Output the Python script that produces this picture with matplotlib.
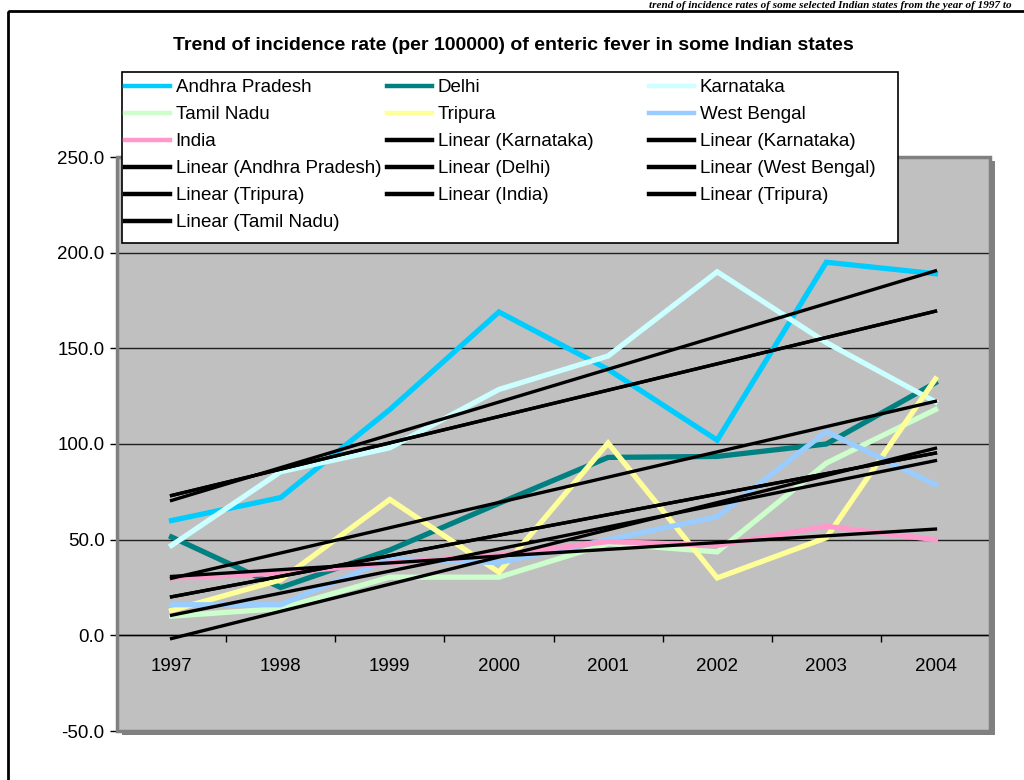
import matplotlib
matplotlib.use("Agg")
import matplotlib.pyplot as plt
from matplotlib.lines import Line2D
from matplotlib.patches import Rectangle
import numpy as np

plt.rcParams["font.family"] = ["Liberation Sans", "DejaVu Sans"]

W, H = 1024, 780

years = ["1997", "1998", "1999", "2000", "2001", "2002", "2003", "2004"]

andhra_pradesh = [60, 72, 118, 169, 139, 102, 195, 189]
delhi = [51.4, 25, 44.6, 69, 93, 93.5, 100, 132]
karnataka = [47, 85.5, 98, 128.5, 146, 190, 153, 122]
tamil_nadu = [10, 14, 30.4, 30.4, 48, 43.6, 90, 118]
tripura = [13, 29, 71, 33, 100.5, 30, 51, 134]
west_bengal = [16, 16, 40, 38, 50, 62, 106.5, 78.7]
india = [30, 32.5, 37.8, 42, 49, 47, 57, 50]

series_names = ["Andhra Pradesh", "Delhi", "Karnataka", "Tamil Nadu",
                "Tripura", "West Bengal", "India"]
series_values = [andhra_pradesh, delhi, karnataka, tamil_nadu,
                 tripura, west_bengal, india]
series_colors = ["#00CCFF", "#008080", "#CCFFFF", "#CCFFCC",
                 "#FFFF99", "#99CCFF", "#FF99CC"]

# trendlines in the order the workbook lists them (two are duplicated)
trend_names = ["Karnataka", "Karnataka", "Andhra Pradesh", "Delhi",
               "West Bengal", "Tripura", "India", "Tripura", "Tamil Nadu"]

y_ticks = [-50, 0, 50, 100, 150, 200, 250]


def fx(px):
    return px / W


def fy(py):
    return 1 - py / H


fig = plt.figure(figsize=(W / 100, H / 100), dpi=100)
fig.patch.set_facecolor("white")

# line of the surrounding document above the chart
fig.text(fx(1012), fy(0.5), "trend of incidence rates of some selected Indian states "
         "from the year of 1997 to", ha="right", va="top",
         family=["Liberation Serif", "DejaVu Serif"], style="italic",
         fontweight="bold", fontsize=8)

# chart area border
fig.add_artist(Rectangle((fx(8), fy(11)), 1.2, -1.2, transform=fig.transFigure,
                         fill=False, edgecolor="black", lw=2.0, zorder=1))

ax_l, ax_r, ax_t, ax_b = 117, 990, 157, 731
ax = fig.add_axes([fx(ax_l), fy(ax_b), fx(ax_r - ax_l), (ax_b - ax_t) / H])
ax.set_facecolor("#C0C0C0")

# plot-area drop shadow
fig.add_artist(Rectangle((fx(ax_l + 5), fy(ax_b + 4)), fx(ax_r - ax_l),
                         (ax_b - ax_t) / H, transform=fig.transFigure,
                         facecolor="#808080", edgecolor="none", zorder=-1))

x = np.arange(len(years))
series_handles = {}
for name, vals, col in zip(series_names, series_values, series_colors):
    (ln,) = ax.plot(x, vals, color=col, lw=3.8, solid_joinstyle="miter", zorder=3)
    series_handles[name] = ln

trend_handles = []
for name in trend_names:
    vals = series_values[series_names.index(name)]
    slope, icpt = np.polyfit(x, vals, 1)
    (ln,) = ax.plot(x, slope * x + icpt, color="black", lw=2.4, zorder=4)
    trend_handles.append(ln)

ax.set_xlim(-0.5, len(years) - 0.5)
ax.set_ylim(-50, 250)
ax.set_yticks(y_ticks)
ax.set_yticklabels([f"{v:.1f}" for v in y_ticks])
ax.yaxis.grid(True, color="#202020", lw=1.0)
ax.set_axisbelow(True)
ax.tick_params(axis="y", direction="out", length=5, width=1, color="black",
               labelsize=13.5, pad=4)

for side in ["top", "right", "left"]:
    ax.spines[side].set_visible(False)
ax.spines["bottom"].set_position(("data", 0))
ax.spines["bottom"].set_color("black")
ax.spines["bottom"].set_linewidth(1.0)

# category axis: tick marks between categories, labels centred
ax.set_xticks(np.arange(len(years) + 1) - 0.5)
ax.set_xticklabels([])
ax.set_xticks(x, minor=True)
ax.set_xticklabels(years, minor=True)
ax.tick_params(axis="x", which="major", direction="out", length=5, width=1)
ax.tick_params(axis="x", which="minor", length=0, labelsize=13.5, pad=16)

ax.add_patch(Rectangle((0, 0), 1, 1, transform=ax.transAxes, fill=False,
                       edgecolor="#808080", lw=2.5, zorder=5, clip_on=False))

fig.text(fx(513), fy(45), "Trend of incidence rate (per 100000) of enteric fever "
         "in some Indian states", ha="center", va="center", fontsize=14,
         fontweight="bold")

# legend: Excel fills rows first, three equal-width columns
entries = [(series_handles[n], n) for n in series_names]
entries += [(h, f"Linear ({n})") for h, n in zip(trend_handles, trend_names)]
leg_l, leg_t, leg_r, leg_b = 122, 72, 898, 243
fig.add_artist(Rectangle((fx(leg_l), fy(leg_b)), fx(leg_r - leg_l),
                         (leg_b - leg_t) / H, transform=fig.transFigure,
                         facecolor="white", edgecolor="black", lw=1.2, zorder=4))
col_x = [125, 387, 649]
for c in range(3):
    items = entries[c::3]
    hs = [Line2D([], [], color=h.get_color(), lw=3.2) for h, _ in items]
    leg = fig.legend(hs, [lab for _, lab in items], loc="upper left",
                     bbox_to_anchor=(fx(col_x[c]), fy(leg_t + 7)),
                     frameon=False, fontsize=13.5, borderpad=0, borderaxespad=0,
                     handlelength=2.4, handletextpad=0.3, labelspacing=0.53)
    leg.set_zorder(6)

fig.savefig("out.png", dpi=100)
